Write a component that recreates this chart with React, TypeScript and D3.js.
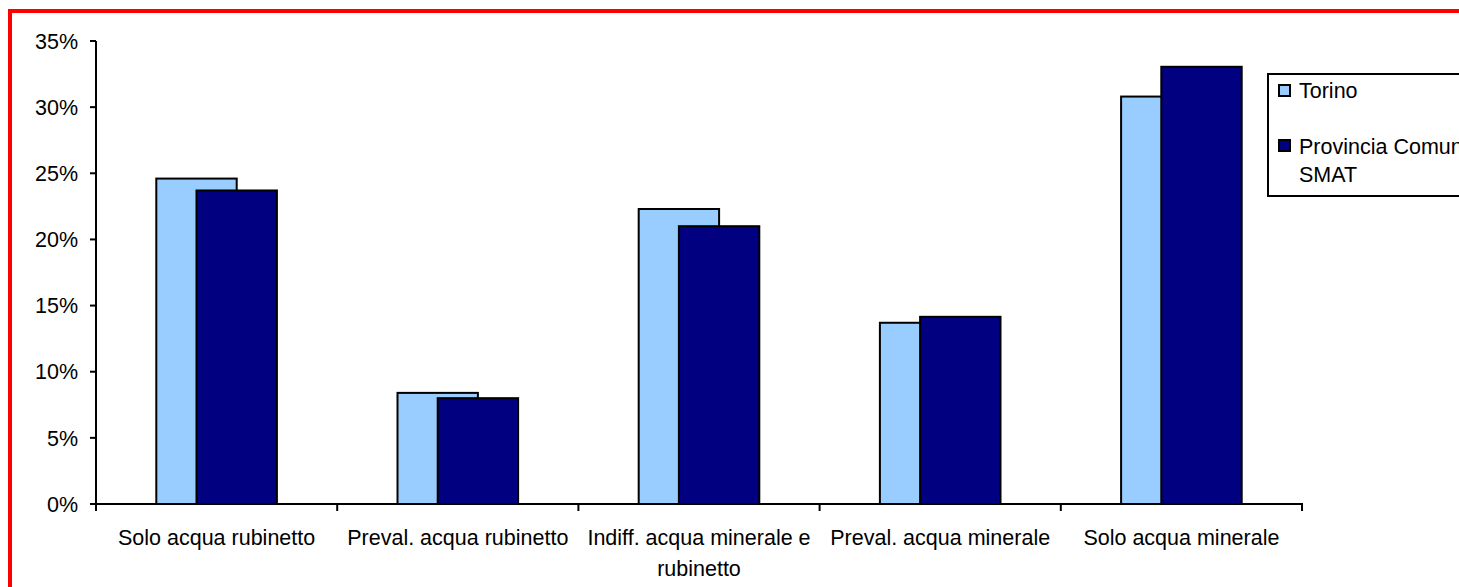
import React from "react";
import * as d3 from "d3";

const categories = [
  "Solo acqua rubinetto",
  "Preval. acqua rubinetto",
  "Indiff. acqua minerale e\nrubinetto",
  "Preval. acqua minerale",
  "Solo acqua minerale",
];
const torino = [24.6, 8.4, 22.3, 13.7, 30.8];
const provincia = [23.7, 8.0, 21.0, 14.15, 33.05];
const seriesNames = ["Torino", "Provincia Comuni SMAT"];
const legendLines = [["Torino"], ["Provincia Comuni", "SMAT"]];
const yTicks = [0, 5, 10, 15, 20, 25, 30, 35];

const W = 1459;
const H = 587;
const FONT = "'Liberation Sans', Arial, sans-serif";
const FS = 21.5;
const colors = ["#99CCFF", "#000080"];

export default function App() {
  const x = d3.scaleBand<string>().domain(categories).range([96, 1302]).padding(0);
  const y = d3.scaleLinear().domain([0, 35]).range([504, 41]);
  const bw = x.bandwidth() / 3;
  const series = [torino, provincia];

  return (
    <svg
      width={W}
      height={H}
      style={{ position: "absolute", left: 0, top: 0, background: "#fff" }}
      fontFamily={FONT}
      fontSize={FS}
    >
      <rect x={0} y={0} width={W} height={H} fill="#fff" />
      <rect x={10} y={11} width={1600} height={700} fill="none" stroke="#ff0000" strokeWidth={4} />

      {/* bars */}
      {series.map((vals, si) =>
        categories.map((c, i) => {
          const center = (x(c) as number) + x.bandwidth() / 2;
          const left = center - 0.75 * bw + si * 0.5 * bw;
          return (
            <rect
              key={`${si}-${i}`}
              x={left}
              y={y(vals[i])}
              width={bw}
              height={y(0) - y(vals[i])}
              fill={colors[si]}
              stroke="#000"
              strokeWidth={2}
            />
          );
        })
      )}

      {/* y axis */}
      <line x1={96} x2={96} y1={y(35)} y2={y(0)} stroke="#000" strokeWidth={2} />
      {yTicks.map((t) => (
        <g key={t}>
          <line x1={90} x2={96} y1={y(t)} y2={y(t)} stroke="#000" strokeWidth={2} />
          <text x={78} y={y(t)} dy="0.36em" textAnchor="end" fill="#000">
            {t}%
          </text>
        </g>
      ))}

      {/* x axis */}
      <line x1={95} x2={1303} y1={y(0)} y2={y(0)} stroke="#000" strokeWidth={2} />
      {[...categories.map((c) => x(c) as number), 1302].map((px, i) => (
        <line key={i} x1={px} x2={px} y1={y(0)} y2={y(0) + 7} stroke="#000" strokeWidth={2} />
      ))}
      {categories.map((c) => {
        const center = (x(c) as number) + x.bandwidth() / 2;
        return (
          <text key={c} x={center} y={545} textAnchor="middle" fill="#000">
            {c.split("\n").map((ln, k) => (
              <tspan key={k} x={center} dy={k === 0 ? 0 : 31}>
                {ln}
              </tspan>
            ))}
          </text>
        );
      })}

      {/* legend */}
      <rect x={1268} y={74} width={300} height={122} fill="#fff" stroke="#000" strokeWidth={2} />
      {seriesNames.map((s, i) => {
        const top = i === 0 ? 85 : 140;
        const base = i === 0 ? 98 : 154;
        return (
          <g key={s}>
            <rect x={1279} y={top} width={11} height={11} fill={colors[i]} stroke="#000" strokeWidth={2} />
            <text x={1299} y={base} fill="#000">
              {legendLines[i].map((ln, k) => (
                <tspan key={k} x={1299} dy={k === 0 ? 0 : 28}>
                  {ln}
                </tspan>
              ))}
            </text>
          </g>
        );
      })}
    </svg>
  );
}
